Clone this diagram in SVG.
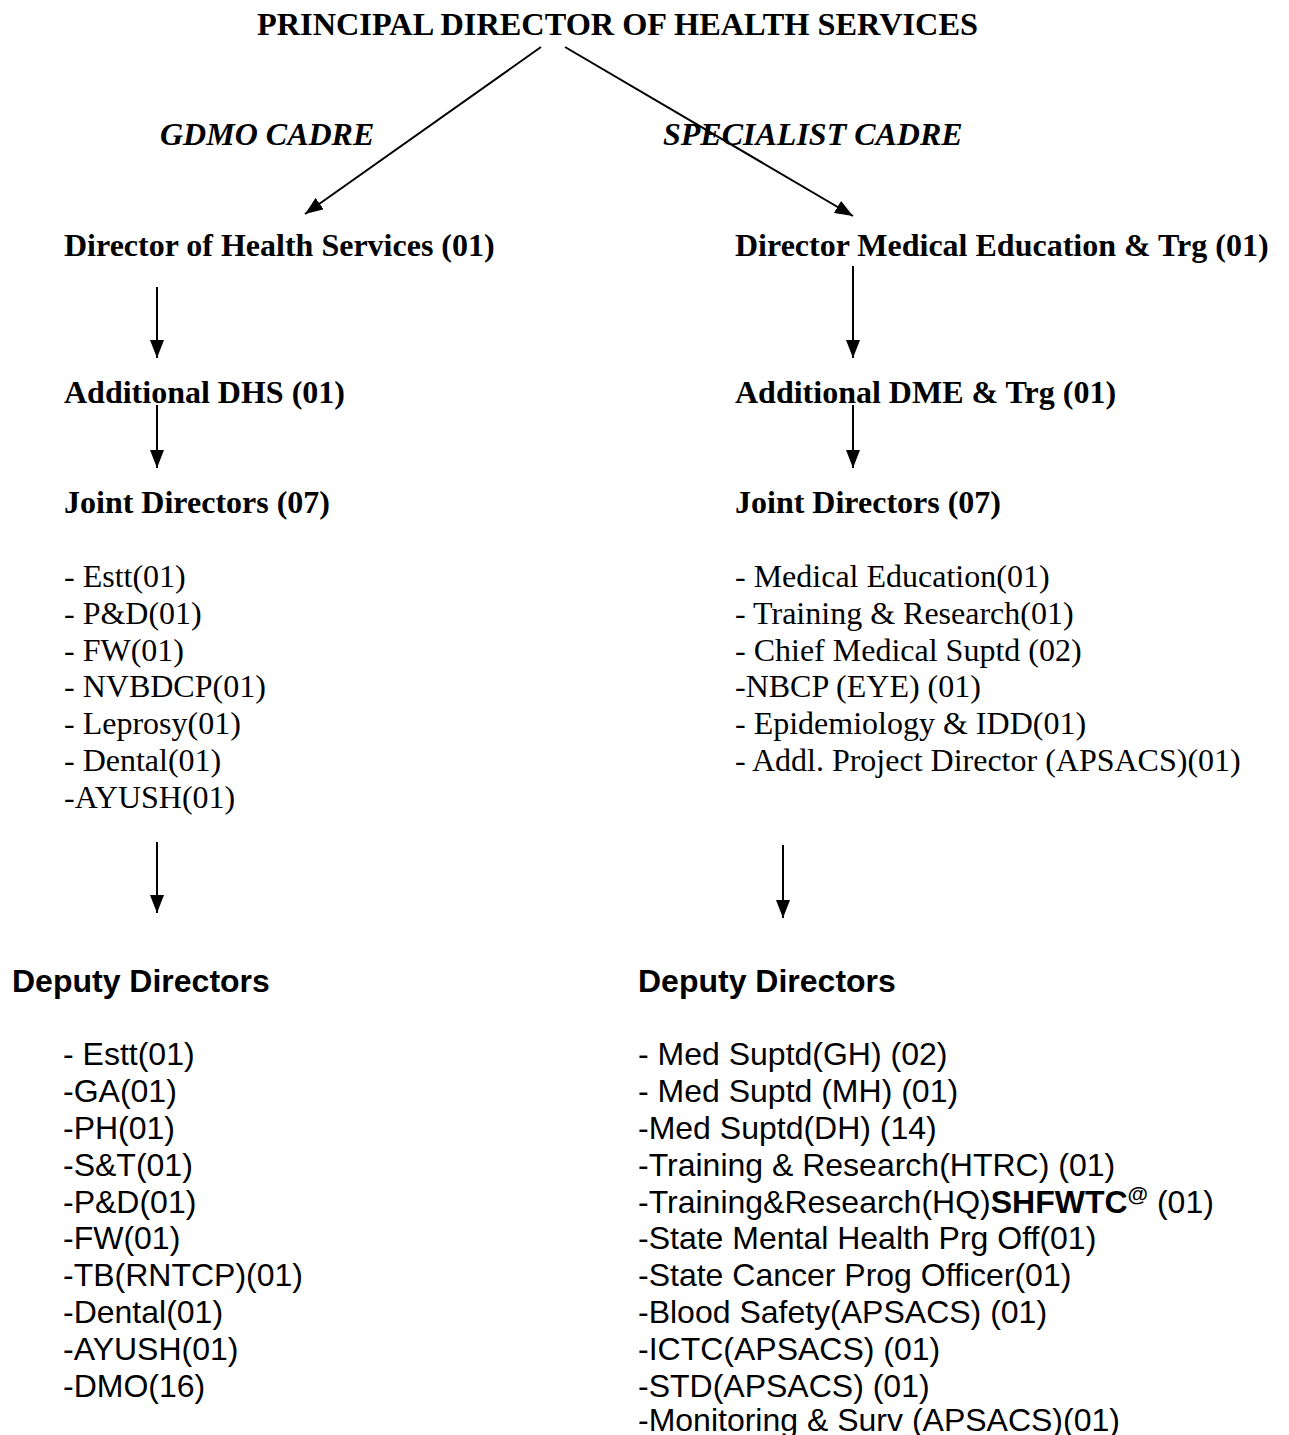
<svg xmlns="http://www.w3.org/2000/svg" width="1289" height="1435" viewBox="0 0 1289 1435">
<style>
.t{font-family:"Liberation Serif","Times New Roman",serif;font-size:32px;fill:#000}
.b{font-weight:bold}
.i{font-style:italic}
.a{font-family:"Liberation Sans",Arial,sans-serif;font-size:32px;fill:#000}
.c{stroke:#000;stroke-width:2;fill:none;marker-end:url(#ah)}
</style>
<defs>
<marker id="ah" viewBox="0 0 18 14" refX="18" refY="7" markerWidth="18" markerHeight="14" markerUnits="userSpaceOnUse" orient="auto">
<path d="M0,0 L18,7 L0,14 Z" fill="#000"/>
</marker>
</defs>
<rect width="1289" height="1435" fill="#fff"/>
<g id="connectors">
<line class="c" x1="541" y1="47" x2="305" y2="214"/>
<line class="c" x1="565" y1="47" x2="853" y2="216"/>
<line class="c" x1="157" y1="287" x2="157" y2="358"/>
<line class="c" x1="157" y1="405" x2="157" y2="468"/>
<line class="c" x1="853" y1="266" x2="853" y2="358"/>
<line class="c" x1="853" y1="405" x2="853" y2="468"/>
<line class="c" x1="157" y1="842" x2="157" y2="913"/>
<line class="c" x1="783" y1="845" x2="783" y2="918"/>
</g>
<g id="pdhs"><text class="t b" x="257" y="35" textLength="721" lengthAdjust="spacingAndGlyphs">PRINCIPAL DIRECTOR OF HEALTH SERVICES</text></g>
<g id="gdmo-label"><text class="t b i" x="160" y="145">GDMO CADRE</text></g>
<g id="spec-label"><text class="t b i" x="663" y="145">SPECIALIST CADRE</text></g>
<g id="dhs"><text class="t b" x="64" y="256">Director of Health Services (01)</text></g>
<g id="dme"><text class="t b" x="735" y="256">Director Medical Education &amp; Trg (01)</text></g>
<g id="adhs"><text class="t b" x="64" y="403">Additional DHS (01)</text></g>
<g id="adme"><text class="t b" x="735" y="403">Additional DME &amp; Trg (01)</text></g>
<g id="jd-left">
<text class="t b" x="64" y="513">Joint Directors (07)</text>
<text class="t" x="64" y="587">- Estt(01)</text>
<text class="t" x="64" y="624">- P&amp;D(01)</text>
<text class="t" x="64" y="661">- FW(01)</text>
<text class="t" x="64" y="697">- NVBDCP(01)</text>
<text class="t" x="64" y="734">- Leprosy(01)</text>
<text class="t" x="64" y="771">- Dental(01)</text>
<text class="t" x="64" y="808">-AYUSH(01)</text>
</g>
<g id="jd-right">
<text class="t b" x="735" y="513">Joint Directors (07)</text>
<text class="t" x="735" y="587">- Medical Education(01)</text>
<text class="t" x="735" y="624">- Training &amp; Research(01)</text>
<text class="t" x="735" y="661">- Chief Medical Suptd (02)</text>
<text class="t" x="735" y="697">-NBCP (EYE) (01)</text>
<text class="t" x="735" y="734">- Epidemiology &amp; IDD(01)</text>
<text class="t" x="735" y="771">- Addl. Project Director (APSACS)(01)</text>
</g>
<g id="dd-left">
<text class="a b" x="12" y="992">Deputy Directors</text>
<text class="a" x="63" y="1065">- Estt(01)</text>
<text class="a" x="63" y="1102">-GA(01)</text>
<text class="a" x="63" y="1139">-PH(01)</text>
<text class="a" x="63" y="1176">-S&amp;T(01)</text>
<text class="a" x="63" y="1213">-P&amp;D(01)</text>
<text class="a" x="63" y="1249">-FW(01)</text>
<text class="a" x="63" y="1286">-TB(RNTCP)(01)</text>
<text class="a" x="63" y="1323">-Dental(01)</text>
<text class="a" x="63" y="1360">-AYUSH(01)</text>
<text class="a" x="63" y="1397">-DMO(16)</text>
</g>
<g id="dd-right">
<text class="a b" x="638" y="992">Deputy Directors</text>
<text class="a" x="638" y="1065">- Med Suptd(GH) (02)</text>
<text class="a" x="638" y="1102">- Med Suptd (MH) (01)</text>
<text class="a" x="638" y="1139">-Med Suptd(DH) (14)</text>
<text class="a" x="638" y="1176">-Training &amp; Research(HTRC) (01)</text>
<text class="a" x="638" y="1213">-Training&amp;Research(HQ)<tspan class="b">SHFWTC</tspan><tspan class="b" font-size="21" dy="-12">@</tspan><tspan dy="12"> (01)</tspan></text>
<text class="a" x="638" y="1249">-State Mental Health Prg Off(01)</text>
<text class="a" x="638" y="1286">-State Cancer Prog Officer(01)</text>
<text class="a" x="638" y="1323">-Blood Safety(APSACS) (01)</text>
<text class="a" x="638" y="1360">-ICTC(APSACS) (01)</text>
<text class="a" x="638" y="1397">-STD(APSACS) (01)</text>
<text class="a" x="638" y="1431">-Monitoring &amp; Surv (APSACS)(01)</text>
</g>
</svg>
